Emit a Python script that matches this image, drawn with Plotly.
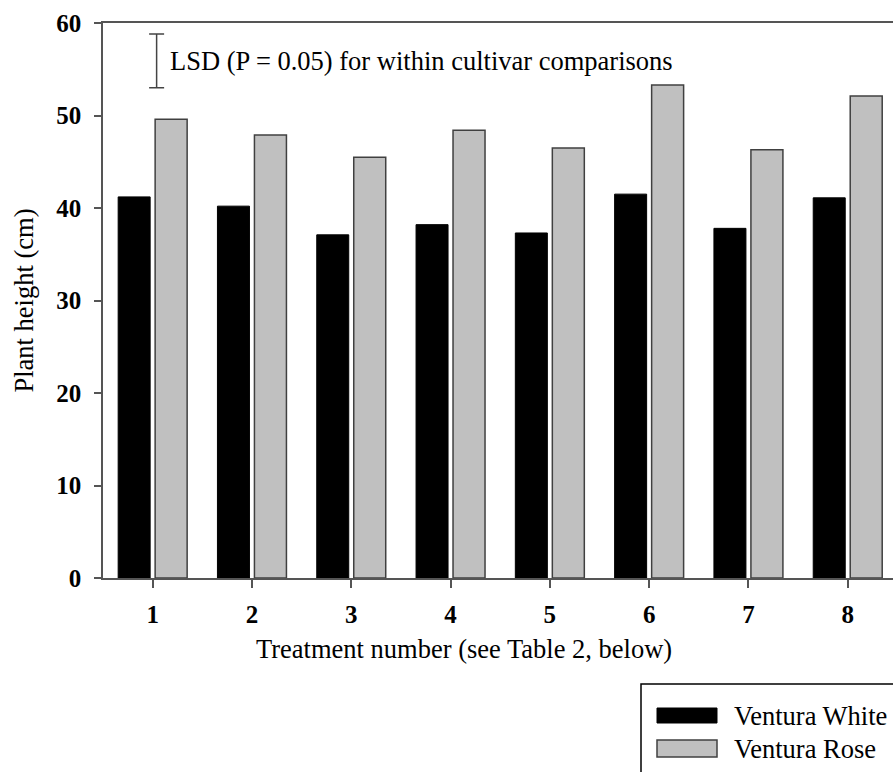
import plotly.graph_objects as go

treatments = [1, 2, 3, 4, 5, 6, 7, 8]
tick_labels = ["1", "2", "3", "4", "5", "6", "7", "8"]
ventura_white = [41.2, 40.2, 37.1, 38.2, 37.3, 41.5, 37.8, 41.1]
ventura_rose = [49.6, 47.9, 45.5, 48.4, 46.5, 53.3, 46.3, 52.1]
lsd_low, lsd_high = 53.0, 58.8
lsd_x = 1.04
series_names = ["Ventura White", "Ventura Rose"]

FONT = "Liberation Serif, Times New Roman, serif"
TXT = 26.5
TICK = 25
W, H = 893, 772
L, R, T, B = 103, 0, 23, 194
PW, PH = W - L - R, H - T - B


def px(x):
    return (x - L) / PW


def py(y):
    return (H - B - y) / PH


fig = go.Figure()
fig.add_trace(go.Bar(x=treatments, y=ventura_white, name=series_names[0],
                     marker=dict(color="black", line=dict(color="black", width=1))))
fig.add_trace(go.Bar(x=treatments, y=ventura_rose, name=series_names[1],
                     marker=dict(color="#c0c0c0", line=dict(color="#404040", width=1.5))))

lsd_mid = (lsd_low + lsd_high) / 2
fig.add_trace(go.Scatter(x=[lsd_x], y=[lsd_mid], mode="markers",
                         marker=dict(size=1, color="rgba(0,0,0,0)"),
                         error_y=dict(type="data", array=[(lsd_high - lsd_low) / 2],
                                      color="#444", thickness=1.5, width=7.5),
                         showlegend=False, hoverinfo="skip"))

fig.add_annotation(x=1.15, y=lsd_mid, xref="x", yref="y",
                   text="LSD (P = 0.05) for within cultivar comparisons",
                   showarrow=False, xanchor="left", yanchor="middle",
                   font=dict(family=FONT, size=TXT, color="black"))

# axis titles
fig.add_annotation(x=px(463.5), y=py(649), xref="paper", yref="paper",
                   text="Treatment number (see Table 2, below)", showarrow=False,
                   xanchor="center", yanchor="middle",
                   font=dict(family=FONT, size=TXT, color="black"))
fig.add_annotation(x=px(23), y=0.5, xref="paper", yref="paper",
                   text="Plant height (cm)", showarrow=False, textangle=-90,
                   xanchor="center", yanchor="middle",
                   font=dict(family=FONT, size=TXT, color="black"))

# manual legend
fig.add_shape(type="rect", xref="paper", yref="paper",
              x0=px(641), x1=px(900), y0=py(684), y1=py(780),
              line=dict(color="black", width=1.5), fillcolor="white")
fig.add_shape(type="rect", xref="paper", yref="paper",
              x0=px(657), x1=px(717), y0=py(708), y1=py(723),
              line=dict(color="black", width=1), fillcolor="black")
fig.add_shape(type="rect", xref="paper", yref="paper",
              x0=px(657), x1=px(717), y0=py(740), y1=py(757),
              line=dict(color="#404040", width=1.5), fillcolor="#c0c0c0")
for name, yc in zip(series_names, [715.5, 748.5]):
    fig.add_annotation(x=px(732), y=py(yc), xref="paper", yref="paper",
                       text=name, showarrow=False, xanchor="left", yanchor="middle",
                       font=dict(family=FONT, size=TXT, color="black"))

fig.update_layout(
    width=W, height=H, autosize=False,
    margin=dict(l=L, r=R, t=T, b=B, pad=0),
    paper_bgcolor="white", plot_bgcolor="white",
    barmode="group", bargap=0.255, bargroupgap=0.135,
    showlegend=False,
    font=dict(family=FONT, color="black"),
    xaxis=dict(range=[0.5, 8.456], tickvals=treatments, ticktext=tick_labels,
               showline=True, mirror=True, linecolor="#555", linewidth=1.5,
               ticks="outside", ticklen=8, tickwidth=1.5, tickcolor="#555",
               showgrid=False, zeroline=False, ticklabelstandoff=5,
               tickfont=dict(family=FONT, size=TICK, color="black", weight="bold")),
    yaxis=dict(range=[0, 60], tickvals=[0, 10, 20, 30, 40, 50, 60],
               showline=True, linecolor="#555", linewidth=1.5,
               ticks="outside", ticklen=7, tickwidth=1.5, tickcolor="#555",
               showgrid=False, zeroline=False, ticklabelstandoff=8,
               tickfont=dict(family=FONT, size=TICK, color="black", weight="bold")),
)

fig.write_html("out.html")
